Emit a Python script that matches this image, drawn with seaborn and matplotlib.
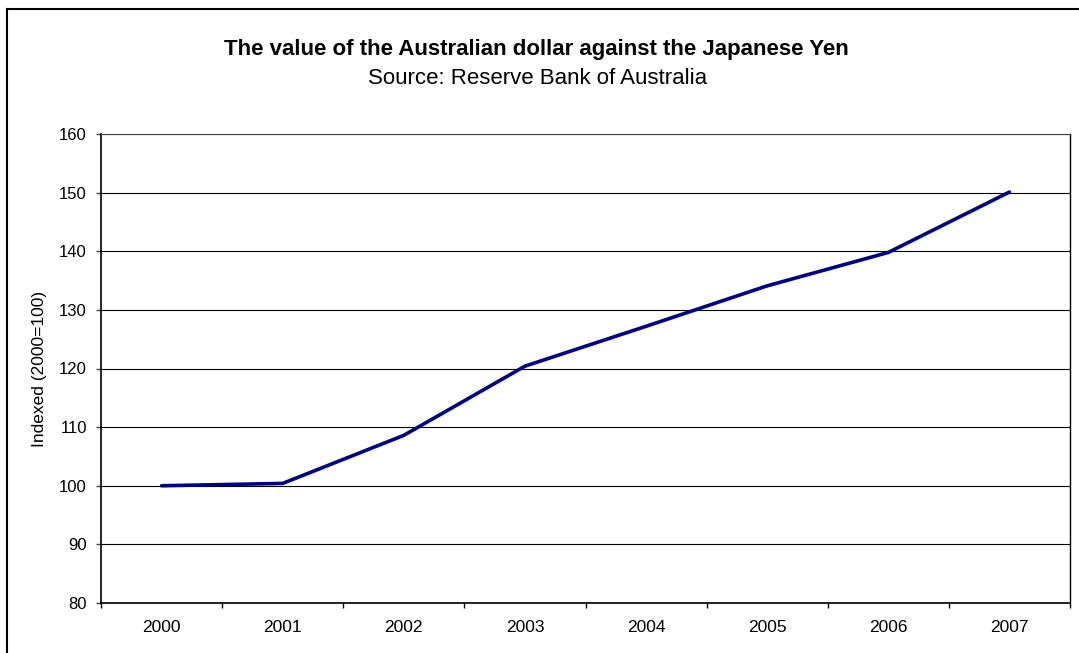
import matplotlib
matplotlib.use("Agg")
import matplotlib.pyplot as plt
import seaborn as sns
import pandas as pd
import numpy as np
from matplotlib.patches import Rectangle

years = ["2000", "2001", "2002", "2003", "2004", "2005", "2006", "2007"]
values = [100.0, 100.4, 108.6, 120.4, 127.2, 134.1, 139.8, 150.1]
yticks = [80, 90, 100, 110, 120, 130, 140, 150, 160]

sns.set_theme(style="white")
plt.rcParams['font.family'] = ['Liberation Sans', 'DejaVu Sans']
plt.rcParams['text.color'] = 'black'
plt.rcParams['axes.labelcolor'] = 'black'
plt.rcParams['xtick.color'] = 'black'
plt.rcParams['ytick.color'] = 'black'

W, H = 1079, 653
fig = plt.figure(figsize=(W / 100, H / 100), dpi=100)
ax = fig.add_axes([101 / W, 1 - 603 / H, (1070 - 101) / W, (603 - 134) / H])

df = pd.DataFrame({"pos": np.arange(len(years)), "value": values})
sns.lineplot(data=df, x="pos", y="value", ax=ax, color="#000080", linewidth=2.6)

ax.set_xlim(-0.5, len(years) - 0.5)
ax.set_ylim(yticks[0], yticks[-1])
ax.set_yticks(yticks)
ax.set_yticklabels([str(t) for t in yticks], fontsize=12)
ax.set_xticks(np.arange(len(years) + 1) - 0.5)
ax.set_xticklabels([])
ax.set_xticks(np.arange(len(years)), minor=True)
ax.set_xticklabels(years, minor=True, fontsize=12.5)
ax.tick_params(axis="x", which="major", length=3.6, width=1, color="black", direction="out", bottom=True)
ax.tick_params(axis="x", which="minor", length=0, pad=12.5, bottom=True)
ax.tick_params(axis="y", length=3.6, width=1, color="#404040", direction="out", left=True, pad=6.5)
ax.grid(axis="y", color="black", linewidth=0.8)
ax.grid(axis="x", visible=False)
ax.set_xlabel("")
ax.set_ylabel("Indexed (2000=100)", fontsize=12.5)
ax.yaxis.label.set_va("center")
ax.yaxis.set_label_coords((40 - 101) / (1070 - 101), 0.5)

for side in ["left", "bottom", "right", "top"]:
    ax.spines[side].set_visible(True)
    ax.spines[side].set_color("black")
ax.spines["left"].set_linewidth(1.2)
ax.spines["bottom"].set_linewidth(1.2)
ax.spines["right"].set_linewidth(1.0)
ax.spines["top"].set_linewidth(0.8)
ax.spines["top"].set_color("#404040")

fig.text(536 / W, 1 - 55 / H, "The value of the Australian dollar against the Japanese Yen",
         ha="center", va="baseline", fontsize=16, fontweight="bold")
fig.text(538 / W, 1 - 84 / H, "Source: Reserve Bank of Australia",
         ha="center", va="baseline", fontsize=16)

fig.patches.append(Rectangle((7 / W, -0.05), 1.2, 1 - 9 / H + 0.05, transform=fig.transFigure,
                             fill=False, edgecolor="black", linewidth=1.5, zorder=10))

fig.savefig("out.png", dpi=100, facecolor="white")
